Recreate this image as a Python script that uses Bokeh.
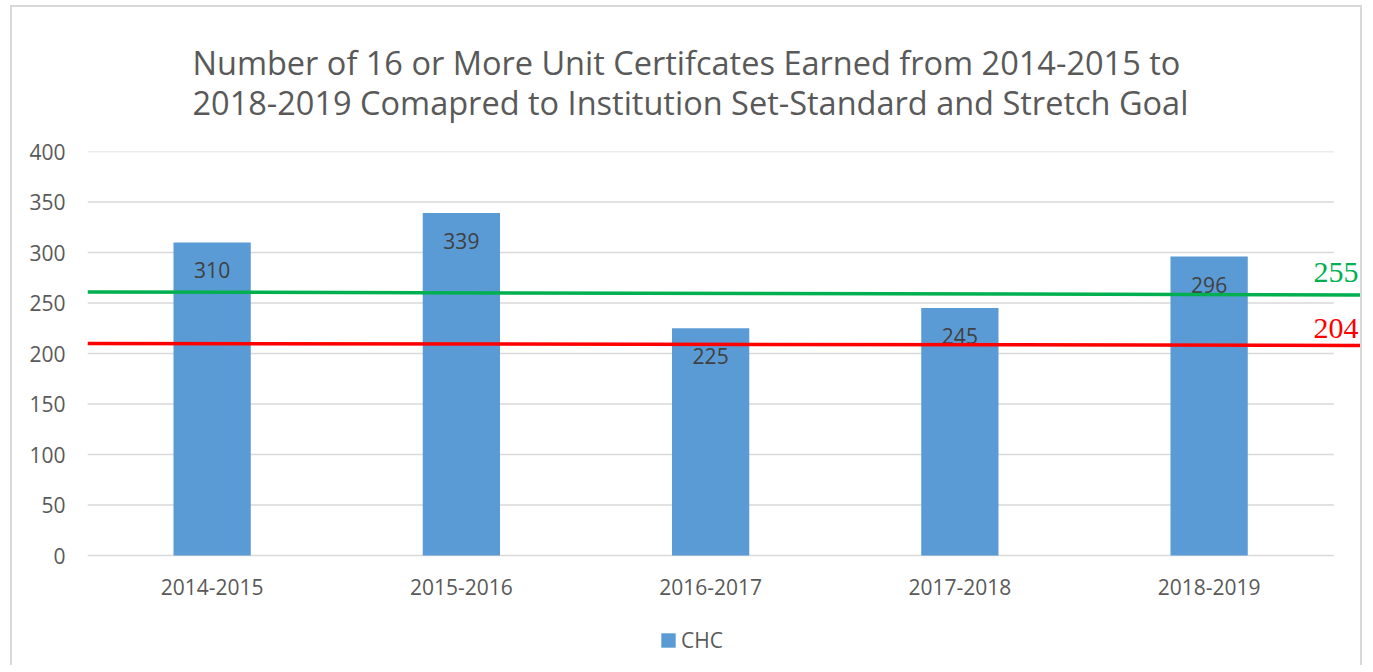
from bokeh.plotting import figure
from bokeh.models import Range1d, FixedTicker, Legend, LegendItem, ColumnDataSource
from bokeh.core.properties import value
from bokeh.embed import file_html
from bokeh.resources import INLINE

# ---------------- data ----------------
years = ["2014-2015", "2015-2016", "2016-2017", "2017-2018", "2018-2019"]
chc = [310, 339, 225, 245, 296]
y_ticks = [0, 50, 100, 150, 200, 250, 300, 350, 400]
goal_labels = ["255", "204"]          # stretch goal, set-standard
goal_line_start = [261, 210]          # as drawn on the chart (left end)
goal_line_end = [258, 208]            # as drawn on the chart (right end)

# ---------------- style ----------------
FONT = "Open Sans"
BAR_COLOR = "#5B9BD5"
GRID_COLOR = "#D9D9D9"
TEXT_COLOR = "#595959"
goal_colors = ["#00B050", "#FF0000"]
goal_label_offsets = [-22, -17]

W, H = 1352, 660
LEFT, TOP = 75, 144            # frame position inside the canvas
ZERO_PX = 548                  # canvas y of value 0
PX_PER_UNIT = (ZERO_PX - TOP) / 400
CAT_PX = 249.25                # px per category

xs = list(range(len(years)))
x_start = -0.5
x_end = x_start + (W - LEFT) / CAT_PX
y_start = -(H - ZERO_PX) / PX_PER_UNIT

p = figure(width=W, height=H, output_backend="svg", toolbar_location=None,
           x_range=Range1d(x_start, x_end), y_range=Range1d(y_start, 400),
           min_border_left=LEFT, min_border_right=0, min_border_top=TOP,
           min_border_bottom=0)
p.styles = {"border-left": "2px solid #D9D9D9", "border-top": "2px solid #D9D9D9",
            "border-right": "2px solid #D9D9D9", "margin-left": "10px",
            "margin-top": "5px"}
p.outline_line_color = None
p.background_fill_color = "white"
p.border_fill_color = "white"
p.xgrid.visible = False
p.ygrid.visible = False

p.title.text = ("Number of 16 or More Unit Certifcates Earned from 2014-2015 to\n"
                "2018-2019 Comapred to Institution Set-Standard and Stretch Goal")
p.title.align = "left"
p.title.offset = 105
p.title.standoff = 53
p.title.text_font = FONT
p.title.text_font_size = "32.5px"
p.title.text_font_style = "normal"
p.title.text_color = TEXT_COLOR
p.title.text_line_height = 0.9

# gridlines (within category band only)
p.segment(x0=[x_start] * len(y_ticks), x1=[len(years) - 0.5] * len(y_ticks),
          y0=y_ticks, y1=y_ticks, line_color=GRID_COLOR, line_width=1.5)

src = ColumnDataSource(dict(x=xs, top=chc, lab=[str(v) for v in chc]))
bars = p.vbar(x="x", top="top", width=0.31, source=src, fill_color=BAR_COLOR,
              line_color=None)
p.text(x="x", y="top", text="lab", source=src, text_align="center",
       text_baseline="middle", y_offset=28, text_font=value(FONT),
       text_font_size="21px", text_color="#404040")

for lab, y0, y1, col, off in zip(goal_labels, goal_line_start, goal_line_end,
                                 goal_colors, goal_label_offsets):
    p.line(x=[x_start, x_end], y=[y0, y1], line_color=col, line_width=3.5)
    p.text(x=[x_end], y=[y1], text=[lab], text_align="right",
           text_baseline="alphabetic", x_offset=-6, y_offset=off,
           text_font=value("Liberation Serif"), text_font_size="30px",
           text_color=col)

# axes
p.xaxis.ticker = FixedTicker(ticks=xs)
p.xaxis.major_label_overrides = {i: y for i, y in enumerate(years)}
p.xaxis.fixed_location = 0
p.yaxis.ticker = FixedTicker(ticks=y_ticks)
for ax in (p.xaxis, p.yaxis):
    ax.axis_line_color = None
    ax.major_tick_line_color = None
    ax.minor_tick_line_color = None
    ax.major_tick_in = 0
    ax.major_tick_out = 0
    ax.minor_tick_out = 0
    ax.major_label_text_font = FONT
    ax.major_label_text_font_size = "21px"
    ax.major_label_text_color = TEXT_COLOR
p.xaxis.major_label_standoff = 23
p.yaxis.major_label_standoff = 22

legend = Legend(items=[LegendItem(label="CHC", renderers=[bars])],
                orientation="horizontal", location=(572, 13),
                label_text_font=FONT, label_text_font_size="21px",
                label_text_color=TEXT_COLOR, glyph_width=18, glyph_height=18,
                border_line_color=None, background_fill_alpha=0,
                margin=0, padding=4, spacing=6, label_standoff=4)
p.add_layout(legend, "center")

open("out.html", "w").write(file_html(p, INLINE))
